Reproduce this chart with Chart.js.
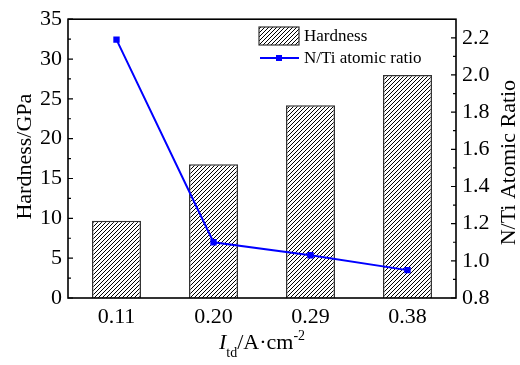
<!DOCTYPE html>
<html>
<head>
<meta charset="utf-8">
<script src="https://cdn.jsdelivr.net/npm/chart.js@4.4.0/dist/chart.umd.min.js"></script>
<style>
  html, body { margin: 0; padding: 0; background: #fff; }
  #wrap { width: 520px; height: 365px; }
</style>
</head>
<body>
<div id="wrap"><canvas id="chart"></canvas></div>
<script>
// data
const categories = ['0.11', '0.20', '0.29', '0.38'];
const hardness = [9.7, 16.8, 24.2, 28.0];     // GPa, left axis
const ntiRatio = [2.19, 1.10, 1.03, 0.95];    // right axis
const ratioTicks = [0.8, 1.0, 1.2, 1.4, 1.6, 1.8, 2.0, 2.2];

const SERIF = '"Liberation Serif", "Times New Roman", serif';

// diagonal hatch ////
function makeHatch(ctx) {
    const p = document.createElement('canvas');
    p.width = 4; p.height = 4;
    const g = p.getContext('2d');
    g.fillStyle = '#fff';
    g.fillRect(0, 0, 4, 4);
    g.strokeStyle = '#000';
    g.lineWidth = 1;
    g.beginPath();
    g.moveTo(0, 4); g.lineTo(4, 0);
    g.moveTo(-1, 1); g.lineTo(1, -1);
    g.moveTo(3, 5); g.lineTo(5, 3);
    g.stroke();
    return ctx.createPattern(p, 'repeat');
}

const canvas = document.getElementById('chart');
const hatch = makeHatch(canvas.getContext('2d'));

// frame, inward ticks, axis titles and legend
const decorations = {
    id: 'decorations',
    afterDraw(chart) {
        const { ctx, chartArea: a, scales } = chart;
        ctx.save();
        ctx.strokeStyle = '#000';
        ctx.lineWidth = 1.6;
        ctx.strokeRect(a.left, a.top, a.right - a.left, a.bottom - a.top);

        ctx.lineWidth = 1.2;
        ctx.beginPath();
        scales.y.ticks.forEach(t => {
            let py = scales.y.getPixelForValue(t.value);
            ctx.moveTo(a.left, py); ctx.lineTo(a.left + 5, py);
            if (t.value + 2.5 < scales.y.max) {
                py = scales.y.getPixelForValue(t.value + 2.5);
                ctx.moveTo(a.left, py); ctx.lineTo(a.left + 3, py);
            }
        });
        scales.y1.ticks.forEach(t => {
            let py = scales.y1.getPixelForValue(t.value);
            ctx.moveTo(a.right, py); ctx.lineTo(a.right - 5, py);
            if (t.value + 0.1 < scales.y1.max) {
                py = scales.y1.getPixelForValue(t.value + 0.1);
                ctx.moveTo(a.right, py); ctx.lineTo(a.right - 3, py);
            }
        });
        ctx.stroke();

        ctx.fillStyle = '#000';
        ctx.textAlign = 'center';
        ctx.textBaseline = 'middle';
        ctx.font = '22px ' + SERIF;

        // left title
        ctx.save();
        ctx.translate(25, (a.top + a.bottom) / 2 - 2);
        ctx.rotate(-Math.PI / 2);
        ctx.fillText('Hardness/GPa', 0, 0);
        ctx.restore();

        // right title (reads bottom to top)
        ctx.save();
        ctx.translate(509, (a.top + a.bottom) / 2 + 4);
        ctx.rotate(-Math.PI / 2);
        ctx.fillText('N/Ti Atomic Ratio', 0, 0);
        ctx.restore();

        // x title: I_td/A·cm^-2
        const parts = [
            { t: 'I', f: 'italic 22px ' + SERIF, dy: 0 },
            { t: 'td', f: '14px ' + SERIF, dy: 8 },
            { t: '/A\u00B7cm', f: '22px ' + SERIF, dy: 0 },
            { t: '-2', f: '14px ' + SERIF, dy: -9 }
        ];
        ctx.textAlign = 'left';
        ctx.textBaseline = 'alphabetic';
        let total = 0;
        parts.forEach(p => { ctx.font = p.f; p.w = ctx.measureText(p.t).width; total += p.w; });
        let x = (a.left + a.right) / 2 - total / 2;
        const base = 349;
        parts.forEach(p => { ctx.font = p.f; ctx.fillText(p.t, x, base + p.dy); x += p.w; });

        // legend
        const lx = 259, ly = 27;
        ctx.fillStyle = hatch;
        ctx.fillRect(lx, ly, 40, 18);
        ctx.strokeStyle = '#333';
        ctx.lineWidth = 1.2;
        ctx.strokeRect(lx, ly, 40, 18);
        ctx.strokeStyle = '#0000ff';
        ctx.lineWidth = 2;
        ctx.beginPath();
        ctx.moveTo(lx + 1, ly + 31); ctx.lineTo(lx + 40, ly + 31);
        ctx.stroke();
        ctx.fillStyle = '#0000ff';
        ctx.fillRect(lx + 17, ly + 28, 6, 6);

        ctx.fillStyle = '#000';
        ctx.font = '17px ' + SERIF;
        ctx.textBaseline = 'middle';
        ctx.fillText(chart.data.datasets[0].label, lx + 45, ly + 10);
        ctx.fillText(chart.data.datasets[1].label, lx + 45, ly + 32);
        ctx.restore();
    }
};

new Chart(canvas, {
    type: 'bar',
    data: {
        labels: categories,
        datasets: [
            {
                type: 'bar',
                label: 'Hardness',
                data: hardness,
                yAxisID: 'y',
                backgroundColor: hatch,
                borderColor: '#333',
                borderWidth: 1.5,
                barPercentage: 0.505,
                categoryPercentage: 1,
                order: 1
            },
            {
                type: 'line',
                label: 'N/Ti atomic ratio',
                data: ntiRatio,
                yAxisID: 'y1',
                borderColor: '#0000ff',
                backgroundColor: '#0000ff',
                borderWidth: 2,
                pointStyle: 'rect',
                pointRadius: 4.5,
                pointBorderWidth: 0,
                tension: 0,
                order: 0
            }
        ]
    },
    options: {
        responsive: true,
        maintainAspectRatio: false,
        devicePixelRatio: 1,
        animation: false,
        layout: { padding: { top: 19, left: 0, right: 0, bottom: 0 } },
        plugins: {
            legend: { display: false },
            tooltip: { enabled: false }
        },
        scales: {
            x: {
                offset: true,
                grid: { display: false, drawTicks: false },
                border: { display: false },
                ticks: { color: '#000', font: { family: SERIF, size: 22 }, padding: 6 },
                afterFit: s => { s.height = 67; }
            },
            y: {
                position: 'left',
                min: 0,
                max: 35,
                grid: { display: false, drawTicks: false },
                border: { display: false },
                ticks: { stepSize: 5, color: '#000', font: { family: SERIF, size: 22 }, padding: 6 },
                afterFit: s => { s.width = 68; }
            },
            y1: {
                position: 'right',
                min: 0.8,
                max: 2.3,
                grid: { display: false, drawTicks: false },
                border: { display: false },
                ticks: {
                    color: '#000',
                    font: { family: SERIF, size: 22 },
                    padding: 6,
                    callback: v => v.toFixed(1)
                },
                afterBuildTicks: s => { s.ticks = ratioTicks.map(v => ({ value: v })); },
                afterFit: s => { s.width = 64; }
            }
        }
    },
    plugins: [decorations]
});
</script>
</body>
</html>
